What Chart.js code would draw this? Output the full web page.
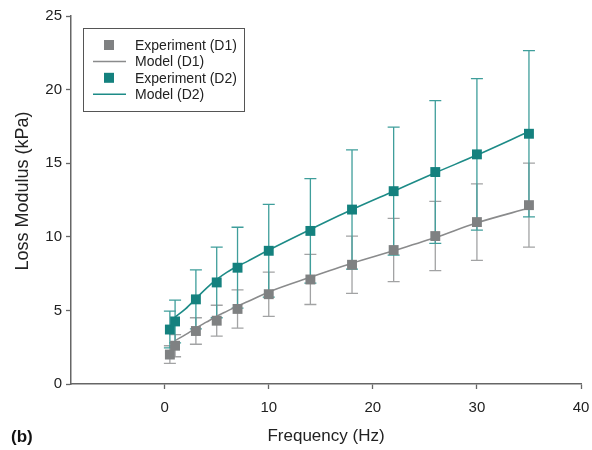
<!DOCTYPE html>
<html>
<head>
<meta charset="utf-8">
<script src="https://cdn.jsdelivr.net/npm/chart.js@4"></script>
<style>
  body { margin: 0; background: #fff; }
  canvas { display: block; }
</style>
</head>
<body>
<canvas id="canvas" width="592" height="450"></canvas>
<script>
// measured frequencies (Hz)
const freq = [0.5, 1, 3, 5, 7, 10, 14, 18, 22, 26, 30, 35];

// experiment means and +/- error (kPa)
const d1Mean = [2.0, 2.6, 3.6, 4.3, 5.1, 6.1, 7.1, 8.1, 9.1, 10.05, 11.0, 12.15];
const d1Err = [0.6, 0.75, 0.9, 1.05, 1.3, 1.5, 1.7, 1.95, 2.15, 2.35, 2.6, 2.85];
const d2Mean = [3.7, 4.25, 5.75, 6.9, 7.9, 9.05, 10.4, 11.85, 13.1, 14.4, 15.6, 17.0];
const d2Err = [1.25, 1.45, 2.0, 2.4, 2.75, 3.15, 3.55, 4.05, 4.35, 4.85, 5.15, 5.65];

// model curves
const modelFreq = [1, 2, 3, 4, 5, 6, 7, 8, 10, 14, 18, 22, 26, 30, 35];
const d1Model = [2.95, 3.35, 3.8, 4.2, 4.6, 4.95, 5.3, 5.6, 6.25, 7.25, 8.2, 9.05, 9.95, 10.95, 11.95];
const d2Model = [4.55, 5.1, 5.8, 6.5, 7.1, 7.6, 8.0, 8.35, 9.1, 10.5, 11.85, 13.1, 14.35, 15.55, 17.15];

const xTicks = [0, 10, 20, 30, 40];
const yTicks = [0, 5, 10, 15, 20, 25];

const teal = '#14817e';
const tealBar = '#3f9e9b';
const grey = '#7f8182';
const greyBar = '#a2a3a4';
const fontFamily = '"Liberation Sans", Arial, sans-serif';

const pts = (xs, ys) => xs.map((x, i) => ({ x: x, y: ys[i] }));

// vertical error bars with caps, drawn under the markers
const errorBars = {
  id: 'errorBars',
  beforeDatasetsDraw(chart) {
    const ctx = chart.ctx;
    const xs = chart.scales.x;
    const ys = chart.scales.y;
    const sets = [
      { mean: d1Mean, err: d1Err, color: greyBar },
      { mean: d2Mean, err: d2Err, color: tealBar },
    ];
    ctx.save();
    ctx.lineWidth = 1.3;
    sets.forEach((s) => {
      ctx.strokeStyle = s.color;
      freq.forEach((f, i) => {
        const px = xs.getPixelForValue(f);
        const top = ys.getPixelForValue(s.mean[i] + s.err[i]);
        const bot = ys.getPixelForValue(s.mean[i] - s.err[i]);
        ctx.beginPath();
        ctx.moveTo(px, top);
        ctx.lineTo(px, bot);
        ctx.moveTo(px - 6, top);
        ctx.lineTo(px + 6, top);
        ctx.moveTo(px - 6, bot);
        ctx.lineTo(px + 6, bot);
        ctx.stroke();
      });
    });
    ctx.restore();
  },
};

// boxed legend, y title and panel letter
const boxLegend = {
  id: 'boxLegend',
  afterDraw(chart) {
    const ctx = chart.ctx;
    const x0 = 83, y0 = 28, w = 161, h = 83;
    ctx.save();
    ctx.strokeStyle = '#555';
    ctx.lineWidth = 1;
    ctx.strokeRect(x0 + 0.5, y0 + 0.5, w, h);
    ctx.font = '14px ' + fontFamily;
    ctx.textBaseline = 'middle';
    chart.data.datasets.forEach((ds, i) => {
      const cy = y0 + 17 + i * 16.4;
      if (ds.showLine === false) {
        ctx.fillStyle = ds.backgroundColor;
        ctx.fillRect(x0 + 21, cy - 5, 10, 10);
      } else {
        ctx.strokeStyle = ds.borderColor;
        ctx.lineWidth = 1.5;
        ctx.beginPath();
        ctx.moveTo(x0 + 10, cy);
        ctx.lineTo(x0 + 43, cy);
        ctx.stroke();
      }
      ctx.fillStyle = '#222';
      ctx.fillText(ds.label, x0 + 52, cy + 1);
    });

    ctx.save();
    ctx.translate(23, 191);
    ctx.rotate(-Math.PI / 2);
    ctx.textAlign = 'center';
    ctx.font = '18px ' + fontFamily;
    ctx.fillStyle = '#222';
    ctx.fillText('Loss Modulus (kPa)', 0, 0);
    ctx.restore();

    ctx.font = 'bold 17px ' + fontFamily;
    ctx.fillStyle = '#111';
    ctx.fillText('(b)', 11, 437);
    ctx.restore();
  },
};

const config = {
  type: 'scatter',
  data: {
    datasets: [
      {
        label: 'Experiment (D1)',
        data: pts(freq, d1Mean),
        showLine: false,
        pointStyle: 'rect',
        pointRadius: 7,
        backgroundColor: grey,
        borderColor: grey,
        borderWidth: 0,
        order: 2,
      },
      {
        label: 'Model (D1)',
        data: pts(modelFreq, d1Model),
        showLine: true,
        pointRadius: 0,
        borderColor: '#8a8b8c',
        backgroundColor: '#8a8b8c',
        borderWidth: 1.6,
        cubicInterpolationMode: 'monotone',
        order: 3,
      },
      {
        label: 'Experiment (D2)',
        data: pts(freq, d2Mean),
        showLine: false,
        pointStyle: 'rect',
        pointRadius: 7,
        backgroundColor: teal,
        borderColor: teal,
        borderWidth: 0,
        order: 0,
      },
      {
        label: 'Model (D2)',
        data: pts(modelFreq, d2Model),
        showLine: true,
        pointRadius: 0,
        borderColor: '#1d8b87',
        backgroundColor: '#1d8b87',
        borderWidth: 1.6,
        cubicInterpolationMode: 'monotone',
        order: 1,
      },
    ],
  },
  options: {
    responsive: false,
    animation: false,
    layout: { autoPadding: false, padding: { left: 0, right: 11, top: 16, bottom: 0 } },
    plugins: {
      legend: { display: false },
      tooltip: { enabled: false },
    },
    scales: {
      x: {
        type: 'linear',
        min: -9,
        max: 40,
        afterBuildTicks: (scale) => {
          scale.ticks = xTicks.map((v) => ({ value: v }));
        },
        afterFit: (scale) => {
          scale.height = 66;
          scale.paddingLeft = 0;
          scale.paddingRight = 0;
        },
        grid: {
          drawOnChartArea: false,
          drawTicks: true,
          tickLength: 5,
          tickColor: '#666',
          tickWidth: 1.3,
        },
        border: { color: '#666', width: 1.5 },
        ticks: {
          padding: 10,
          color: '#222',
          font: { family: fontFamily, size: 15 },
        },
        title: {
          display: true,
          text: 'Frequency (Hz)',
          color: '#222',
          padding: { top: 0, bottom: 3 },
          font: { family: fontFamily, size: 17 },
        },
      },
      y: {
        type: 'linear',
        min: 0,
        max: 25,
        afterBuildTicks: (scale) => {
          scale.ticks = yTicks.map((v) => ({ value: v }));
        },
        afterFit: (scale) => {
          scale.width = 71;
          scale.paddingTop = 0;
          scale.paddingBottom = 0;
        },
        grid: {
          drawOnChartArea: false,
          drawTicks: true,
          tickLength: 5,
          tickColor: '#666',
          tickWidth: 1.3,
        },
        border: { color: '#666', width: 1.5 },
        ticks: {
          padding: 4,
          color: '#222',
          font: { family: fontFamily, size: 15 },
        },
      },
    },
  },
  plugins: [errorBars, boxLegend],
};

const ctx = document.getElementById('canvas').getContext('2d');
window.myChart = new Chart(ctx, config);
</script>
</body>
</html>
